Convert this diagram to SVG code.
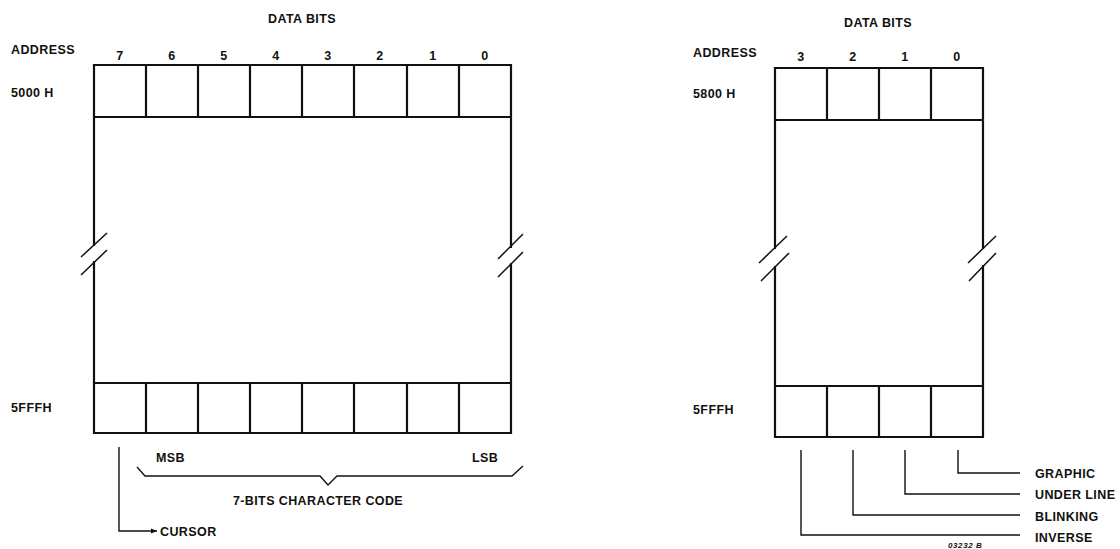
<svg xmlns="http://www.w3.org/2000/svg" width="1120" height="549" viewBox="0 0 1120 549">
<style>
.box{fill:none;stroke:#111;stroke-width:2.2;stroke-linecap:square}
.brk{fill:none;stroke:#111;stroke-width:1.5}
.ld{fill:none;stroke:#111;stroke-width:1.4}
text{font-family:"Liberation Sans",Arial,sans-serif;font-weight:bold;font-size:12.5px;fill:#111;letter-spacing:0.4px}
.c{text-anchor:middle}
.sm{font-size:8px;font-style:italic;letter-spacing:0.6px}
</style>
<defs>
<marker id="arr" viewBox="0 0 10 10" refX="10" refY="5" markerWidth="8" markerHeight="6" markerUnits="userSpaceOnUse" orient="auto">
<path d="M0,1 L10,5 L0,9 Z" fill="#111"/>
</marker>
</defs>
<rect width="1120" height="549" fill="#fff"/>

<g id="left-memory">
<text class="c" x="302" y="23">DATA BITS</text>
<text x="11" y="54">ADDRESS</text>
<text class="c" x="120" y="60">7</text>
<text class="c" x="172" y="60">6</text>
<text class="c" x="224" y="60">5</text>
<text class="c" x="276" y="60">4</text>
<text class="c" x="328" y="60">3</text>
<text class="c" x="380" y="60">2</text>
<text class="c" x="433" y="60">1</text>
<text class="c" x="485" y="60">0</text>
<text x="11" y="97">5000 H</text>
<text x="11" y="412">5FFFH</text>
<path class="box" d="M94,245 V65 H511 V247 M94,262 V433 H511 V264 M94,117 H511 M94,383 H511"/>
<path class="box" d="M146,65V117M198,65V117M250,65V117M302,65V117M354,65V117M407,65V117M459,65V117"/>
<path class="box" d="M146,383V433M198,383V433M250,383V433M302,383V433M354,383V433M407,383V433M459,383V433"/>
<path class="brk" d="M81,257 L107,233 M81,275 L107,250 M498,259 L523,234 M498,277 L523,252"/>
</g>

<g id="right-memory">
<text class="c" x="878" y="27">DATA BITS</text>
<text x="693" y="57">ADDRESS</text>
<text class="c" x="801" y="61">3</text>
<text class="c" x="853" y="61">2</text>
<text class="c" x="905" y="61">1</text>
<text class="c" x="957" y="61">0</text>
<text x="693" y="98">5800 H</text>
<text x="693" y="414">5FFFH</text>
<path class="box" d="M775,248 V68 H983 V248 M775,267 V437 H983 V266 M775,120 H983 M775,386 H983"/>
<path class="box" d="M827,68V120M879,68V120M931,68V120M827,386V437M879,386V437M931,386V437"/>
<path class="brk" d="M759,263 L787,236 M761,281 L789,253 M968,263 L996,236 M969,281 L996,253"/>
</g>

<g id="connectors">
<path class="ld" d="M119,447 V531 H157" marker-end="url(#arr)"/>
<path class="ld" d="M137,467 L145,476 H320 L328,485 L337,476 H512 L523,466"/>
<path class="ld" d="M801,450 V535 H1020"/>
<path class="ld" d="M853,450 V515 H1020"/>
<path class="ld" d="M905,450 V494 H1020"/>
<path class="ld" d="M958,450 V473 H1020"/>
</g>

<g id="labels">
<text x="160" y="536">CURSOR</text>
<text x="156" y="462">MSB</text>
<text x="472" y="462">LSB</text>
<text class="c" x="318" y="505">7-BITS CHARACTER CODE</text>
<text x="1035" y="478">GRAPHIC</text>
<text x="1035" y="499">UNDER LINE</text>
<text x="1035" y="521">BLINKING</text>
<text x="1035" y="542">INVERSE</text>
<text class="sm" x="948" y="548">03232 B</text>
</g>
</svg>
